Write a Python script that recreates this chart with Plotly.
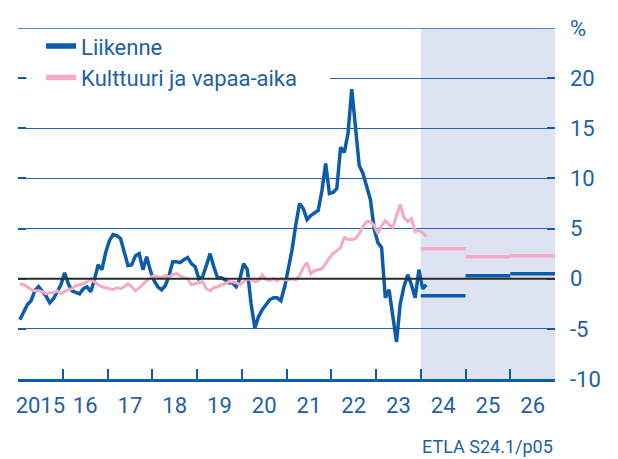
import plotly.graph_objects as go

BLUE = "#0b5cad"
PINK = "#f5aac4"
TEXT = "#1e5fa8"

# monthly data, Jan 2015 .. Feb 2024
start_year = 2015
liikenne = [
    -4.1, -3.3, -2.6, -2.2, -1.2, -0.8, -1.3, -1.7, -2.4, -2.0, -1.3, -0.6,
    0.6, -0.5, -1.2, -1.4, -1.5, -1.0, -0.8, -1.3, -0.1, 1.4, 0.9, 2.6,
    3.8, 4.4, 4.3, 4.0, 2.6, 1.3, 1.4, 2.3, 2.5, 0.9, 2.2, 0.8,
    -0.2, -0.8, -1.1, -0.7, 0.3, 1.7, 1.7, 1.6, 1.9, 2.1, 1.5, 1.2,
    0.0, 0.2, 1.3, 2.5, 1.2, 0.1, 0.1, -0.1, -0.4, -0.4, -0.8, 0.0,
    1.5, 0.9, -2.5, -4.9, -3.8, -3.1, -2.6, -2.1, -1.9, -1.9, -2.2, -0.8,
    1.0, 2.9, 5.4, 7.5, 7.0, 5.9, 6.3, 6.6, 6.8, 8.8, 11.5, 8.5,
    8.6, 9.0, 13.1, 12.6, 14.5, 18.9, 14.7, 11.3, 10.5, 9.2, 7.9, 5.0,
    3.6, 3.1, -1.9, -1.1, -3.8, -6.3, -2.5, -0.8, 0.4, -0.6, -1.9, 0.9,
    -1.0, -0.6,
]
kulttuuri = [
    -0.5, -0.6, -0.8, -1.1, -1.2, -1.2, -1.3, -1.5, -1.4, -1.4, -1.2, -1.5,
    -1.3, -1.1, -1.0, -0.7, -0.6, -0.5, -0.3, 0.0, -0.3, -0.6, -0.8, -0.9,
    -1.0, -1.1, -0.9, -1.0, -0.8, -0.5, -0.8, -1.2, -0.9, -0.5, -0.2, 0.1,
    0.3, 0.2, 0.1, 0.3, 0.2, 0.4, 0.5, 0.3, 0.1, 0.0, -0.6, -0.5,
    -0.4, -0.3, -1.0, -1.2, -0.9, -0.8, -0.6, -0.5, -0.3, -0.3, -0.4, -0.6,
    -0.3, 0.0, -0.1, -0.3, -0.2, 0.4, -0.1, -0.2, 0.0, -0.2, 0.0, -0.1,
    -0.1, 0.0, -0.1, 0.3, 1.1, 1.6, 0.5, 0.8, 0.9, 1.0, 1.5, 2.1,
    2.5, 2.8, 3.1, 4.1, 3.9, 3.9, 4.0, 4.5, 5.2, 5.7, 5.7, 5.3,
    4.5, 5.3, 5.8, 5.4, 5.1, 6.3, 7.4, 6.1, 5.7, 6.0, 4.7, 4.8,
    4.6, 4.2,
]

# annual forecasts
forecast_years = [2024, 2025, 2026]
liikenne_fc = [-1.7, 0.3, 0.5]
kulttuuri_fc = [3.0, 2.2, 2.3]

year_labels = ["2015", "16", "17", "18", "19", "20", "21", "22", "23", "24", "25", "26"]

months = [start_year + (i + 0.5) / 12 for i in range(len(liikenne))]

fig = go.Figure()

fig.add_shape(type="rect", x0=2024, x1=2027, y0=-10, y1=25,
              fillcolor="#dde3f1", line_width=0, layer="below")
# top border line at 25
fig.add_shape(type="line", xref="paper", x0=0, x1=1, y0=25, y1=25,
              line=dict(color="#2a63b0", width=1.5))
# white box behind the legend hides the gridline there
fig.add_shape(type="rect", xref="paper", yref="paper",
              x0=0.0167, x1=0.581, y0=0.78, y1=0.97,
              fillcolor="white", line_width=0, layer="above")

fig.add_trace(go.Scatter(x=months, y=liikenne, mode="lines", showlegend=False,
                         line=dict(color=BLUE, width=3.5)))
fig.add_trace(go.Scatter(x=months, y=kulttuuri, mode="lines", showlegend=False,
                         line=dict(color=PINK, width=3)))

for yr, a, b in zip(forecast_years, liikenne_fc, kulttuuri_fc):
    fig.add_trace(go.Scatter(x=[yr, yr + 1], y=[b, b], mode="lines",
                             line=dict(color=PINK, width=3.5), showlegend=False))
    fig.add_trace(go.Scatter(x=[yr, yr + 1], y=[a, a], mode="lines",
                             line=dict(color=BLUE, width=3.5), showlegend=False))

# legend entries with thicker keys
fig.add_trace(go.Scatter(x=[None], y=[None], mode="lines", name="Liikenne",
                         line=dict(color=BLUE, width=5.5)))
fig.add_trace(go.Scatter(x=[None], y=[None], mode="lines",
                         name="Kulttuuri ja vapaa-aika",
                         line=dict(color=PINK, width=5.5)))

fig.add_hline(y=0, line=dict(color="#2b2b2b", width=2))

fig.add_annotation(text="ETLA S24.1/p05", xref="paper", yref="paper",
                   x=1.0, y=-0.193, xanchor="right", yanchor="middle",
                   showarrow=False, font=dict(size=18, color=TEXT))

fig.update_layout(
    width=618, height=459,
    margin=dict(l=8, r=71, t=14, b=88),
    plot_bgcolor="white", paper_bgcolor="white",
    font=dict(family="Roboto", color=TEXT),
    legend=dict(x=0.043, y=1.008, xanchor="left", yanchor="top",
                bgcolor="rgba(0,0,0,0)", font=dict(size=22, color=TEXT)),
)

fig.update_xaxes(
    range=[2015, 2027],
    tickvals=[2015.5 + i for i in range(len(year_labels))],
    ticktext=year_labels,
    ticks="", showgrid=False, zeroline=False,
    showline=True, linecolor=BLUE, linewidth=2.5,
    tickfont=dict(size=22, color=TEXT), ticklabelstandoff=5,
    minor=dict(tickvals=list(range(2016, 2027)), ticks="inside",
               ticklen=10, tickcolor=BLUE, tickwidth=1.5, showgrid=False),
)

fig.update_yaxes(
    range=[-10, 25], side="right",
    tickvals=[-10, -5, 0, 5, 10, 15, 20, 25],
    ticktext=["-10", "-5", "0", "5", "10", "15", "20", "%"],
    showgrid=True, gridcolor="#2a63b0", gridwidth=1, zeroline=False,
    ticks="inside", ticklen=8, tickwidth=2, tickcolor=BLUE, mirror="ticks",
    tickfont=dict(size=22, color=TEXT), ticklabelstandoff=14,
)

fig.write_html("out.html")
